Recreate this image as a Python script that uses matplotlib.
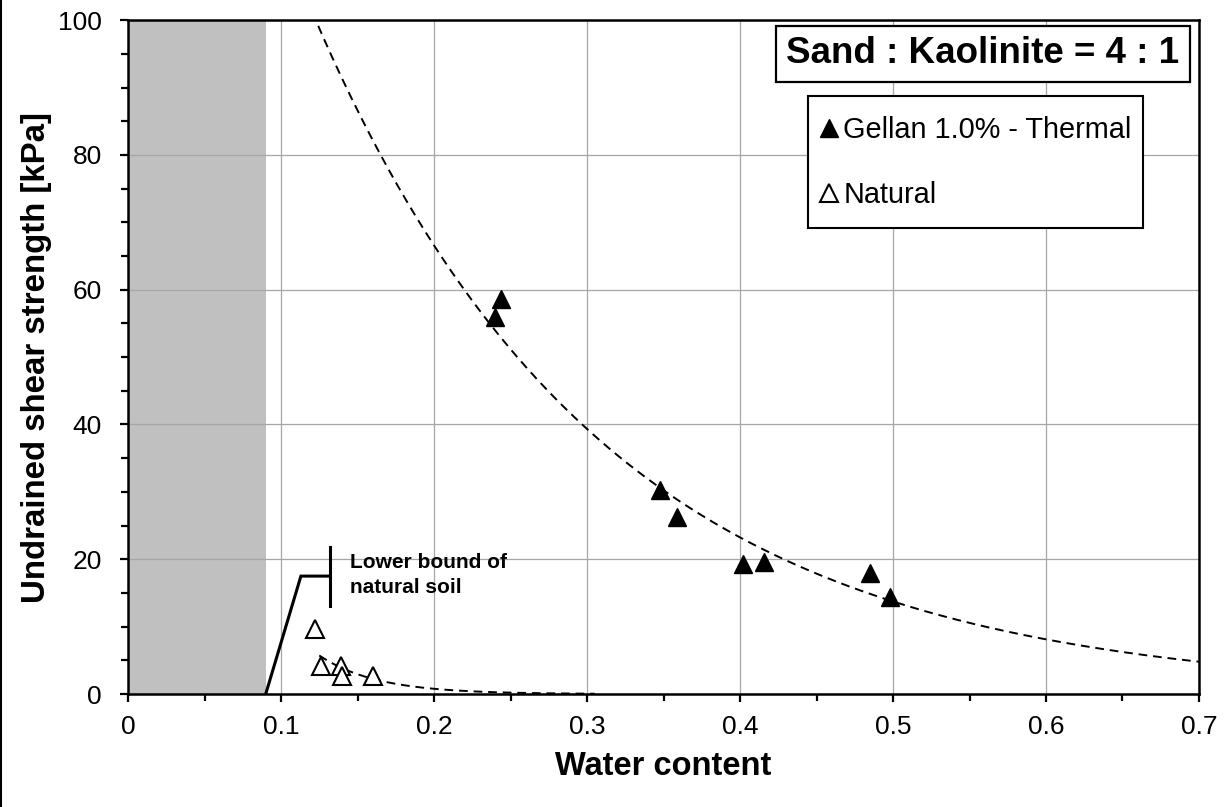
import numpy as np
import matplotlib
matplotlib.use("Agg")
import matplotlib.pyplot as plt
from matplotlib.lines import Line2D
from matplotlib.patches import Rectangle

plt.rcParams['font.family'] = ['Liberation Sans', 'DejaVu Sans']

# gellan 1.0% - thermal (filled triangles)
gellan_w = [0.240, 0.244, 0.348, 0.359, 0.402, 0.416, 0.485, 0.498]
gellan_su = [55.9, 58.6, 30.3, 26.3, 19.3, 19.6, 17.9, 14.4]
# natural soil (open triangles)
natural_w = [0.122, 0.126, 0.139, 0.140, 0.160]
natural_su = [9.6, 4.1, 4.1, 2.7, 2.7]
# lower bound of natural soil (solid bracket)
lb_w = [0.09, 0.113, 0.132]
lb_su = [0.0, 17.5, 17.5]
lb_bar_w = 0.132
lb_bar_su = [13.1, 21.8]
shade_w = 0.09          # grey band 0 .. 0.09

xticks = [0, 0.1, 0.2, 0.3, 0.4, 0.5, 0.6, 0.7]
yticks = [0, 20, 40, 60, 80, 100]


def expfit(x, y):
    # excel style exponential trendline  y = a*exp(b*x)
    b, lna = np.polyfit(np.asarray(x), np.log(np.asarray(y)), 1)
    return np.exp(lna), b


fig = plt.figure(figsize=(12.31, 8.07), dpi=100)
ax = fig.add_axes([0.104, 0.14, 0.87, 0.835])

ax.axvspan(0, shade_w, color='#c0c0c0', zorder=0, lw=0)
ax.grid(True, color='#a6a6a6', lw=0.9, zorder=1)
ax.set_axisbelow(True)

a1, b1 = expfit(gellan_w, gellan_su)
xx = np.linspace(0.1, 0.7, 300)
ax.plot(xx, a1 * np.exp(b1 * xx), color='black', lw=1.4, ls=(0, (4.5, 3)), zorder=3)

a2, b2 = expfit(natural_w, natural_su)
xx2 = np.linspace(0.125, 0.305, 200)
ax.plot(xx2, a2 * np.exp(b2 * xx2), color='black', lw=1.4, ls=(0, (4.5, 3)), zorder=3)

ax.plot(lb_w, lb_su, color='black', lw=2.2, zorder=3, solid_joinstyle='miter')
ax.plot([lb_bar_w, lb_bar_w], lb_bar_su, color='black', lw=2.2, zorder=3)
ax.text(0.145, 21.0, 'Lower bound of\nnatural soil', fontsize=15, fontweight='bold',
        va='top', ha='left', linespacing=1.45, zorder=4)

ax.plot(gellan_w, gellan_su, ls='none', marker='^', ms=13, color='black',
        label='Gellan 1.0% - Thermal', zorder=5)
ax.plot(natural_w, natural_su, ls='none', marker='^', ms=13, mfc='white', mec='black',
        mew=1.5, label='Natural', zorder=5)

ax.set_xlim(0, 0.7)
ax.set_ylim(0, 100)
ax.set_xticks(xticks)
ax.set_xticklabels([('%g' % t) for t in xticks])
ax.set_yticks(yticks)
ax.set_xticks(np.arange(0.05, 0.7, 0.1), minor=True)
ax.set_yticks(np.arange(0, 101, 5), minor=True)
ax.tick_params(which='both', direction='out', width=1.6, color='black')
ax.tick_params(which='major', length=6)
ax.tick_params(which='minor', length=5)
ax.tick_params(axis='x', which='major', labelsize=19, pad=9)
ax.tick_params(axis='y', which='major', labelsize=19, pad=13)
for s in ax.spines.values():
    s.set_linewidth(1.8)
    s.set_color('black')

ax.set_xlabel('Water content', fontsize=23.5, fontweight='bold', labelpad=9)
ax.set_ylabel('Undrained shear strength [kPa]', fontsize=23.8, fontweight='bold', labelpad=4)

ax.text(0.798, 0.950, 'Sand : Kaolinite = 4 : 1', transform=ax.transAxes,
        fontsize=26.5, fontweight='bold', ha='center', va='center', zorder=6,
        bbox=dict(boxstyle='square,pad=0.28', fc='white', ec='black', lw=1.6))

# legend frame drawn separately so padding can differ horizontally / vertically
ax.add_patch(Rectangle((0.6349, 0.6914), 0.3128, 0.1958, transform=ax.transAxes,
                       fc='white', ec='black', lw=1.5, zorder=6))
leg = ax.legend(loc='upper left', bbox_to_anchor=(0.6448, 0.858), borderaxespad=0,
                fontsize=20.8, frameon=False, borderpad=0, labelspacing=1.28,
                handlelength=0.7, handletextpad=0.15, markerscale=0.95)
leg.set_zorder(7)

fig.add_artist(Line2D([0.0012, 0.0012], [0, 1], transform=fig.transFigure,
                      color='black', lw=1.5))

fig.savefig('out.png', dpi=100)
